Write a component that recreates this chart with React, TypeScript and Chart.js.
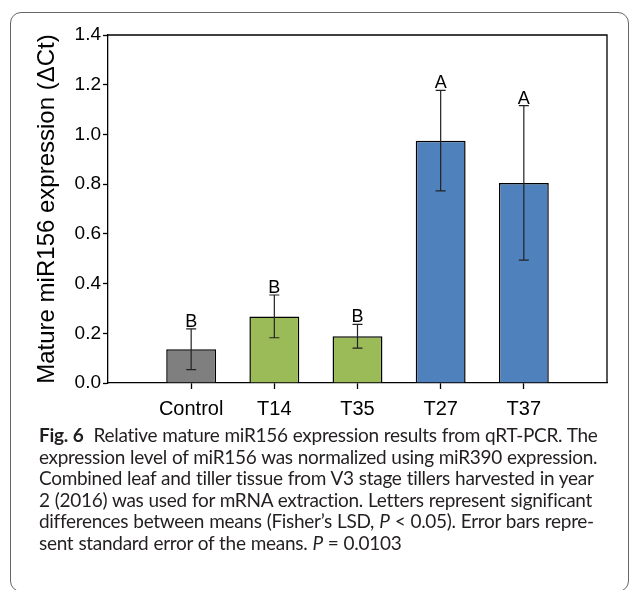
import React, { useEffect, useRef } from "react";
import { Chart, registerables } from "chart.js";
Chart.register(...registerables);

const categories = ["Control", "T14", "T35", "T27", "T37"];
const positions = [1, 2, 3, 4, 5];
const means = [0.136, 0.268, 0.188, 0.975, 0.805];
const errors = [0.082, 0.086, 0.048, 0.202, 0.311];
const letters = ["B", "B", "B", "A", "A"];
const barColors = ["#7f7f7f", "#9bbb59", "#9bbb59", "#4f81bd", "#4f81bd"];
const yTickValues = [0, 0.2, 0.4, 0.6, 0.8, 1.0, 1.2, 1.4];

const FONT = "'Liberation Sans', Arial, Helvetica, sans-serif";

const framePlugin = {
  id: "frameAndErrors",
  afterDatasetsDraw(chart: any) {
    const { ctx, chartArea, scales } = chart;
    const xs = scales.x;
    const ys = scales.y;
    ctx.save();
    ctx.strokeStyle = "#000";
    ctx.lineWidth = 1.3;
    ctx.beginPath();
    ctx.moveTo(chartArea.left, chartArea.top);
    ctx.lineTo(chartArea.right, chartArea.top);
    ctx.lineTo(chartArea.right, chartArea.bottom);
    ctx.stroke();

    ctx.strokeStyle = "#222";
    ctx.lineWidth = 1.2;
    ctx.fillStyle = "#000";
    ctx.font = `18px ${FONT}`;
    ctx.textAlign = "center";
    ctx.textBaseline = "alphabetic";
    positions.forEach((p, i) => {
      const x = xs.getPixelForValue(p);
      const yTop = ys.getPixelForValue(means[i] + errors[i]);
      const yBot = ys.getPixelForValue(means[i] - errors[i]);
      const cap = 5;
      ctx.beginPath();
      ctx.moveTo(x, yTop);
      ctx.lineTo(x, yBot);
      ctx.moveTo(x - cap, yTop);
      ctx.lineTo(x + cap, yTop);
      ctx.moveTo(x - cap, yBot);
      ctx.lineTo(x + cap, yBot);
      ctx.stroke();
      ctx.fillText(letters[i], x, yTop - 2);
    });
    ctx.restore();
  },
};

export default function App() {
  const ref = useRef<HTMLCanvasElement | null>(null);
  useEffect(() => {
    if (!ref.current) return;
    const chart = new Chart(ref.current, {
      type: "bar",
      data: {
        datasets: [
          {
            data: positions.map((p, i) => ({ x: p, y: means[i] })),
            backgroundColor: barColors,
            borderColor: "#000",
            borderWidth: 1.5,
            barPercentage: 0.6,
            categoryPercentage: 1,
          } as any,
        ],
      },
      options: {
        animation: false,
        responsive: true,
        maintainAspectRatio: false,
        layout: { padding: { left: 0, top: 35, right: 22, bottom: 0 } },
        plugins: { legend: { display: false }, tooltip: { enabled: false } },
        scales: {
          x: {
            type: "linear",
            min: 0,
            max: 6,
            offset: false,
            afterBuildTicks: (scale: any) => {
              scale.ticks = positions.map((v) => ({ value: v }));
            },
            afterFit: (scale: any) => {
              scale.height = 42;
            },
            ticks: {
              autoSkip: false,
              maxRotation: 0,
              padding: 8,
              color: "#000",
              font: { family: FONT, size: 20 },
              callback: (v: any) => {
                const idx = positions.indexOf(Number(v));
                return idx >= 0 ? categories[idx] : "";
              },
            },
            grid: {
              offset: false,
              drawOnChartArea: false,
              drawTicks: true,
              tickLength: 6,
              tickColor: "#000",
              tickWidth: 1.3,
            },
            border: { color: "#000", width: 1.3 },
          },
          y: {
            type: "linear",
            min: 0,
            max: 1.4,
            afterBuildTicks: (scale: any) => {
              scale.ticks = yTickValues.map((v) => ({ value: v }));
            },
            afterFit: (scale: any) => {
              scale.width = 108;
            },
            ticks: {
              padding: 2,
              color: "#000",
              font: { family: FONT, size: 19 },
              callback: (v: any) => Number(v).toFixed(1),
            },
            grid: {
              drawOnChartArea: false,
              drawTicks: true,
              tickLength: 5,
              tickColor: "#000",
              tickWidth: 1.3,
            },
            border: { color: "#000", width: 1.3 },
            title: {
              display: true,
              text: "Mature miR156 expression (ΔCt)",
              color: "#000",
              font: { family: FONT, size: 24 },
              padding: { top: 33, bottom: 0 },
            },
          },
        },
      },
      plugins: [framePlugin],
    });
    return () => chart.destroy();
  }, []);

  const lineStyle: React.CSSProperties = {
    whiteSpace: "nowrap",
    height: 21.6,
  };

  return (
    <div
      style={{
        position: "absolute",
        left: 0,
        top: 0,
        width: 629,
        height: 590,
        overflow: "hidden",
        background: "#fff",
      }}
    >
      <div
        style={{
          position: "absolute",
          left: 10,
          top: 12,
          width: 619,
          height: 580,
          border: "1.4px solid #666",
          borderRadius: 11,
          boxSizing: "border-box",
        }}
      />
      <div style={{ position: "absolute", left: 0, top: 0, width: 629, height: 425 }}>
        <canvas ref={ref} />
      </div>
      <div
        style={{
          position: "absolute",
          left: 39,
          top: 424,
          width: 580,
          fontFamily: "Lato, sans-serif",
          fontSize: 19,
          letterSpacing: "-0.3px",
          wordSpacing: "0.5px",
          lineHeight: "21.6px",
          color: "#231f20",
        }}
      >
        <div style={lineStyle}>
          <b>Fig. 6</b>&nbsp; Relative mature miR156 expression results from qRT-PCR. The
        </div>
        <div style={lineStyle}>expression level of miR156 was normalized using miR390 expression.</div>
        <div style={lineStyle}>Combined leaf and tiller tissue from V3 stage tillers harvested in year</div>
        <div style={lineStyle}>2 (2016) was used for mRNA extraction. Letters represent significant</div>
        <div style={lineStyle}>
          differences between means (Fisher’s LSD, <i>P</i> &lt; 0.05). Error bars repre-
        </div>
        <div style={lineStyle}>
          sent standard error of the means. <i>P</i>&nbsp;=&nbsp;0.0103
        </div>
      </div>
    </div>
  );
}
